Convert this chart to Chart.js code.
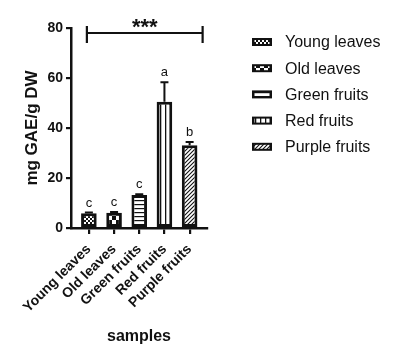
<!DOCTYPE html>
<html>
<head>
<meta charset="utf-8">
<script src="https://cdn.jsdelivr.net/npm/chart.js@4.4.1/dist/chart.umd.min.js"></script>
<style>
  html, body { margin: 0; padding: 0; background: #fff; }
  #wrap { width: 396px; height: 358px; position: relative; }
</style>
</head>
<body>
<div id="wrap"><canvas id="myChart"></canvas></div>
<script>
// chart values
const samples = ['Young leaves', 'Old leaves', 'Green fruits', 'Red fruits', 'Purple fruits'];
const means = [5.9, 6.1, 13.2, 50.5, 33.1];
const errors = [0.3, 0.3, 0.3, 7.8, 1.3];
const letters = ['c', 'c', 'c', 'a', 'b'];
const yTicks = [0, 20, 40, 60, 80];
const sigLabel = '***';
const sigLevel = 78;      // y value of the bracket
const sigFrom = 0;        // first sample index
const sigTo = 4;          // last sample index
const patternKinds = ['dots', 'checker', 'hlines', 'vlines', 'diag'];

const INK = '#111';
const FONT = "'Liberation Sans', Arial, sans-serif";

// black & white fill patterns for the bars
function makePattern(kind) {
    const c = document.createElement('canvas');
    const size = kind === 'checker' ? 8 : (kind === 'vlines' ? 5 : 4);
    c.width = size; c.height = size;
    const g = c.getContext('2d');
    g.fillStyle = '#fff';
    g.fillRect(0, 0, size, size);
    g.fillStyle = INK;
    g.strokeStyle = INK;
    if (kind === 'dots') {
        g.fillRect(0, 0, 2, 2);
        g.fillRect(2, 2, 2, 2);
    } else if (kind === 'checker') {
        g.fillRect(0, 0, 4, 4);
        g.fillRect(4, 4, 4, 4);
    } else if (kind === 'hlines') {
        g.fillRect(0, 0, size, 1.2);
    } else if (kind === 'vlines') {
        g.fillRect(0, 0, 1.3, size);
    } else if (kind === 'diag') {
        g.lineWidth = 1.1;
        g.beginPath();
        g.moveTo(0, size); g.lineTo(size, 0);
        g.moveTo(-1, 1); g.lineTo(1, -1);
        g.moveTo(size - 1, size + 1); g.lineTo(size + 1, size - 1);
        g.stroke();
    }
    return c.getContext('2d').createPattern(c, 'repeat');
}

const patterns = patternKinds.map(makePattern);

// error bars, letters, significance bracket and legend
const extrasPlugin = {
    id: 'extras',
    afterDatasetsDraw(chart) {
        const ctx = chart.ctx;
        const xs = chart.scales.x;
        const ys = chart.scales.y;
        ctx.save();
        ctx.strokeStyle = INK;
        ctx.fillStyle = INK;
        ctx.lineWidth = 2;
        means.forEach((m, i) => {
            const x = xs.getPixelForValue(i);
            const yTop = ys.getPixelForValue(m);
            const yErr = ys.getPixelForValue(m + errors[i]);
            ctx.beginPath();
            ctx.moveTo(x, yTop);
            ctx.lineTo(x, yErr);
            ctx.moveTo(x - 4, yErr);
            ctx.lineTo(x + 4, yErr);
            ctx.stroke();
            ctx.font = '13px ' + FONT;
            ctx.textAlign = 'center';
            ctx.textBaseline = 'alphabetic';
            ctx.fillText(letters[i], x, yErr - 6);
        });

        // significance bracket
        const x0 = xs.getPixelForValue(sigFrom) - 2;
        const x1 = xs.getPixelForValue(sigTo) + 13;
        const yl = ys.getPixelForValue(sigLevel);
        ctx.lineWidth = 2.2;
        ctx.beginPath();
        ctx.moveTo(x0, yl); ctx.lineTo(x1, yl);
        ctx.moveTo(x0, yl - 7); ctx.lineTo(x0, yl + 10);
        ctx.moveTo(x1, yl - 7); ctx.lineTo(x1, yl + 10);
        ctx.stroke();
        ctx.font = 'bold 22px ' + FONT;
        ctx.textAlign = 'center';
        ctx.fillText(sigLabel, (x0 + x1) / 2, yl + 1);

        // legend on the right
        ctx.font = '16px ' + FONT;
        ctx.textAlign = 'left';
        ctx.textBaseline = 'middle';
        samples.forEach((s, i) => {
            const cy = 42 + i * 26.2;
            ctx.fillStyle = INK;
            ctx.fillRect(252, cy - 4, 20, 8);
            ctx.fillStyle = patterns[i];
            ctx.fillRect(254.5, cy - 2, 15, 4);
            ctx.fillStyle = INK;
            ctx.fillText(s, 285, cy + 1);
        });
        ctx.restore();
    }
};

const points = samples.map((s, i) => ({ x: i, y: means[i] }));

const ctx = document.getElementById('myChart').getContext('2d');
const chartInstance = new Chart(ctx, {
    type: 'bar',
    data: {
        datasets: [{
            data: points,
            backgroundColor: patterns,
            borderColor: INK,
            borderWidth: 3,
            borderSkipped: false,
            barPercentage: 0.62,
            categoryPercentage: 1
        }]
    },
    plugins: [extrasPlugin],
    options: {
        responsive: true,
        maintainAspectRatio: false,
        animation: false,
        layout: { padding: { top: 28, right: 189, bottom: 0, left: 0 } },
        font: { family: FONT },
        scales: {
            x: {
                type: 'linear',
                min: -0.71,
                max: 4.69,
                offset: false,
                afterFit: s => { s.height = 130; },
                afterBuildTicks: s => { s.ticks = samples.map((_, i) => ({ value: i })); },
                grid: { offset: false, drawOnChartArea: false, drawTicks: true, tickLength: 6, color: INK, lineWidth: 2.2 },
                border: { display: true, color: INK, width: 2.5 },
                ticks: {
                    minRotation: 45,
                    maxRotation: 45,
                    autoSkip: false,
                    color: INK,
                    padding: 7,
                    font: { family: FONT, size: 14, weight: 'bold' },
                    callback: v => samples[v]
                },
                title: {
                    display: true,
                    text: 'samples',
                    color: INK,
                    font: { family: FONT, size: 16, weight: 'bold' },
                    padding: { top: 0, bottom: 12 }
                }
            },
            y: {
                min: 0,
                max: 80,
                afterFit: s => { s.width = 71; },
                afterBuildTicks: s => { s.ticks = yTicks.map(v => ({ value: v })); },
                grid: { drawOnChartArea: false, drawTicks: true, tickLength: 5, color: INK, lineWidth: 2.2 },
                border: { display: true, color: INK, width: 2.5 },
                ticks: {
                    color: INK,
                    padding: 3,
                    font: { family: FONT, size: 14, weight: 'bold' }
                },
                title: {
                    display: true,
                    text: 'mg GAE/g DW',
                    color: INK,
                    font: { family: FONT, size: 17, weight: 'bold' },
                    padding: { top: 22, bottom: 0 }
                }
            }
        },
        plugins: {
            legend: { display: false },
            tooltip: { enabled: false }
        }
    }
});
</script>
</body>
</html>
